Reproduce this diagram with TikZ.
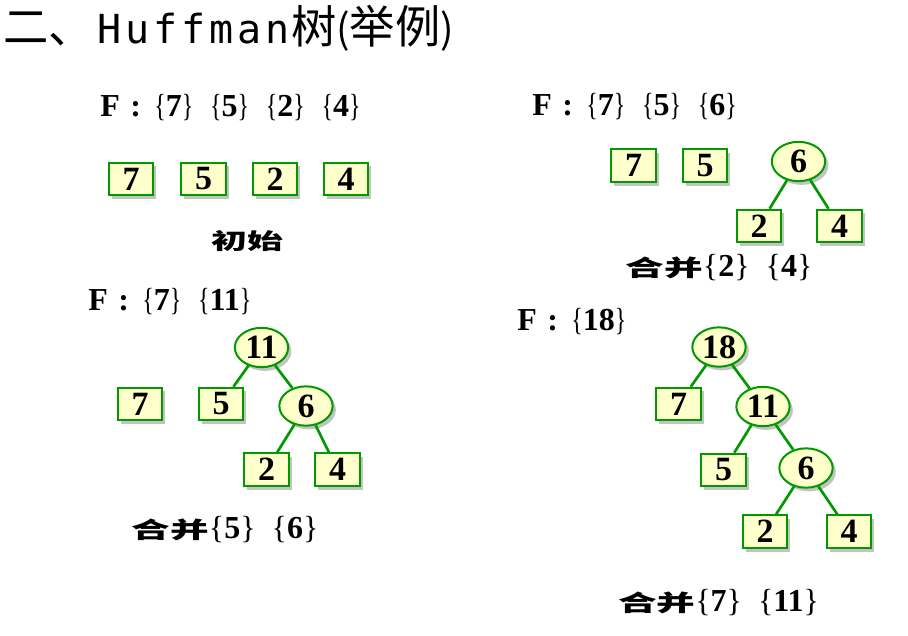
\documentclass[tikz,border=0pt]{standalone}
\usepackage{fontspec}
\usepackage{graphicx}
\setmainfont{Liberation Serif}
\newfontfamily\cjk{Noto Sans CJK SC}
\newfontfamily\latmono{DejaVu Sans Mono}
\usetikzlibrary{shapes.geometric,shadows}
\definecolor{hgreen}{RGB}{0,153,0}
\definecolor{hfill}{RGB}{255,255,204}
\definecolor{hshadow}{RGB}{195,195,195}
\newcommand{\hgap}{\hspace{0.5em}}
\newcommand{\fgap}{\hspace{12.5pt}}
\newcommand{\lbr}{{\mdseries\{}}
\newcommand{\rbr}{{\mdseries\}}}
\newcommand{\nlb}{\scalebox{0.75}[1]{\mdseries\{}}
\newcommand{\nrb}{\scalebox{0.75}[1]{\mdseries\}}}
\newcommand{\fhead}{F\hspace{8pt}:\hspace{10pt}}
\newcommand{\hzi}[1]{\scalebox{1.45}[0.85]{\fontsize{20}{20}\selectfont\cjk\bfseries #1}}
\newcommand{\hzb}[1]{\scalebox{1.38}[0.85]{\fontsize{19.5}{19.5}\selectfont\cjk\bfseries #1}}
\newcommand{\mc}[1]{\makebox[21pt]{\latmono\fontsize{30}{30}\selectfont #1}}
\tikzset{
  shad/.style={drop shadow={shadow xshift=2.4pt,shadow yshift=-2.8pt,fill=hshadow,opacity=1}},
  leaf/.style={shape=rectangle,draw=hgreen,line width=1.5pt,fill=hfill,shad,
    minimum width=33.4pt,minimum height=24.4pt,inner sep=0pt,
    font=\fontsize{25.5}{25.5}\selectfont\bfseries},
  inode/.style={shape=ellipse,draw=hgreen,line width=1.5pt,fill=hfill,shad,
    minimum width=40pt,minimum height=29.5pt,inner sep=0pt,
    font=\fontsize{25.5}{25.5}\selectfont\bfseries},
  edge/.style={draw=hgreen,line width=2pt},
  flabel/.style={anchor=west,inner sep=0pt,font=\fontsize{24}{24}\selectfont\bfseries},
  clabel/.style={inner sep=0pt,font=\fontsize{24}{24}\selectfont\bfseries},
}
\begin{document}
\begin{tikzpicture}[x=0.75pt,y=-0.75pt]
\useasboundingbox (0,0) rectangle (908,636);
\node[anchor=west,inner sep=0pt] (title) at (3,28) {\cjk\fontsize{34}{34}\selectfont 二、\hspace{1pt}\mc{H}\mc{u}\mc{f}\mc{f}\mc{m}\mc{a}\mc{n}树\makebox[10pt]{\fontsize{30}{30}\selectfont(}举例\makebox[10pt]{\fontsize{30}{30}\selectfont)}};

% panel 1
\node[flabel] (f1) at (100,108) {\fhead\nlb7\nrb\fgap\nlb5\nrb\fgap\nlb2\nrb\fgap\nlb4\nrb};
\node[leaf] (a7) at (131,179) {7};
\node[leaf] (a5) at (203.5,179) {5};
\node[leaf] (a2) at (275,179) {2};
\node[leaf] (a4) at (346,179) {4};
\node[inner sep=0pt] (c1) at (247,241) {\hzb{初始}};

% panel 2
\node[flabel] (f2) at (532,107) {\fhead\nlb7\nrb\fgap\nlb5\nrb\fgap\nlb6\nrb};
\node[leaf] (b7) at (633.5,165.5) {7};
\node[leaf] (b5) at (705,165.5) {5};
\node[inode] (b6) at (798.5,161.5) {6};
\node[leaf] (b2) at (759,226) {2};
\node[leaf] (b4) at (839.5,226) {4};
\draw[edge] (b6) -- (b2);
\draw[edge] (b6) -- (b4);
\node[clabel] (c2) at (719,268) {\hzi{合并}\lbr2\rbr\hgap\lbr4\rbr};

% panel 3
\node[flabel] (f3) at (88,302) {\fhead\nlb7\nrb\fgap\nlb11\nrb};
\node[inode] (d11) at (261.5,347.5) {11};
\node[leaf] (d7) at (140,404) {7};
\node[leaf] (d5) at (221,404) {5};
\node[inode] (d6) at (306,406) {6};
\node[leaf] (d2) at (266.5,469.5) {2};
\node[leaf] (d4) at (337.5,469.5) {4};
\draw[edge] (d11) -- (d5);
\draw[edge] (d11) -- (d6);
\draw[edge] (d6) -- (d2);
\draw[edge] (d6) -- (d4);
\node[clabel] (c3) at (225,530) {\hzi{合并}\lbr5\rbr\hgap\lbr6\rbr};

% panel 4
\node[flabel] (f4) at (517,322) {\fhead\nlb18\nrb};
\node[inode] (e18) at (719,347) {18};
\node[leaf] (e7) at (678.5,404) {7};
\node[inode] (e11) at (763,406.5) {11};
\node[leaf] (e5) at (723.5,470) {5};
\node[inode] (e6) at (806,468) {6};
\node[leaf] (e2) at (765,531.5) {2};
\node[leaf] (e4) at (849,531.5) {4};
\draw[edge] (e18) -- (e7);
\draw[edge] (e18) -- (e11);
\draw[edge] (e11) -- (e5);
\draw[edge] (e11) -- (e6);
\draw[edge] (e6) -- (e2);
\draw[edge] (e6) -- (e4);
\node[clabel] (c4) at (718.5,603) {\hzi{合并}\lbr7\rbr\hgap\lbr11\rbr};
\end{tikzpicture}
\end{document}
